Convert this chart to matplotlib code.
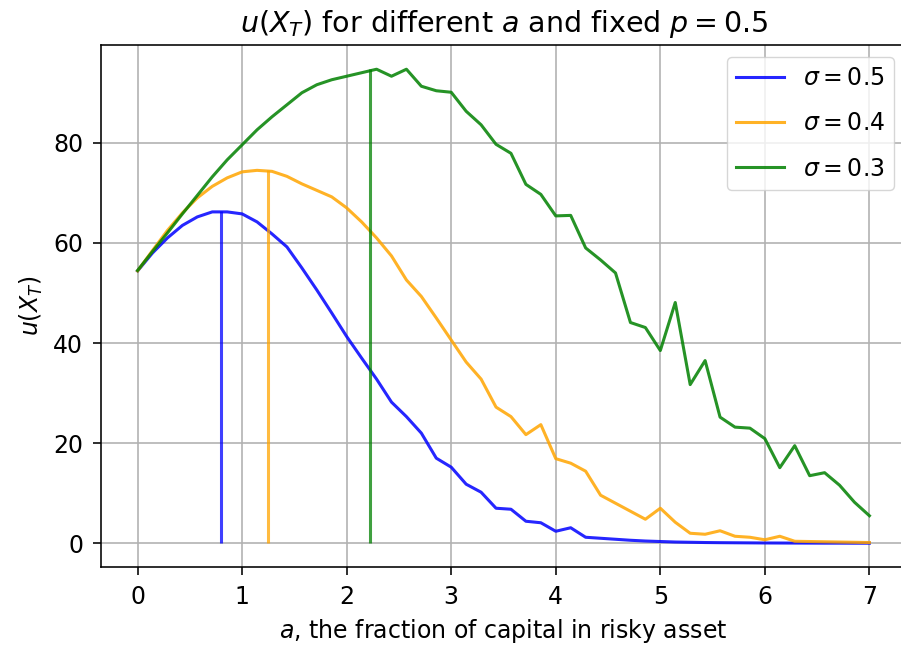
import numpy as np
import matplotlib
matplotlib.use("Agg")
import matplotlib.pyplot as plt

a = np.linspace(0, 7, 50)

u_sigma05 = [54.4, 58.0, 61.0, 63.5, 65.2, 66.2, 66.2, 65.8, 64.2, 61.8,
             59.2, 55.0, 50.6, 46.0, 41.3, 37.0, 32.8, 28.2, 25.3, 22.0,
             17.0, 15.2, 11.8, 10.2, 7.0, 6.8, 4.4, 4.1, 2.4, 3.1,
             1.2, 1.0, 0.8, 0.6, 0.45, 0.35, 0.25, 0.2, 0.15, 0.12,
             0.1, 0.08, 0.06, 0.05, 0.04, 0.03, 0.02, 0.02, 0.01, 0.01]
u_sigma04 = [54.4, 58.5, 62.5, 66.0, 69.0, 71.3, 73.0, 74.2, 74.5, 74.3,
             73.3, 71.8, 70.5, 69.2, 67.0, 64.2, 61.0, 57.4, 52.6, 49.3,
             45.0, 40.6, 36.2, 32.8, 27.2, 25.3, 21.7, 23.7, 16.9, 16.0,
             14.4, 9.6, 8.0, 6.4, 4.8, 7.0, 4.2, 2.0, 1.8, 2.5,
             1.4, 1.2, 0.7, 1.4, 0.4, 0.35, 0.3, 0.25, 0.2, 0.15]
u_sigma03 = [54.5, 58.3, 62.0, 65.8, 69.5, 73.2, 76.6, 79.6, 82.6, 85.2,
             87.6, 90.0, 91.6, 92.6, 93.3, 94.0, 94.7, 93.3, 94.7, 91.3,
             90.4, 90.1, 86.3, 83.6, 79.7, 77.9, 71.7, 69.7, 65.4, 65.5,
             59.0, 56.6, 54.0, 44.1, 43.1, 38.5, 48.1, 31.7, 36.5, 25.2,
             23.2, 23.0, 20.9, 15.1, 19.5, 13.5, 14.1, 11.6, 8.2, 5.5]

a_opt = [0.80, 1.25, 2.22]
u_opt = [66.3, 74.5, 94.8]
labels = [r"$\sigma=0.5$", r"$\sigma=0.4$", r"$\sigma=0.3$"]
colors = ["blue", "orange", "green"]

fig = plt.figure(figsize=(9.01, 6.5), dpi=100)
ax = fig.add_axes([101 / 901, (650 - 567) / 650, (906 - 101) / 901, (567 - 45) / 650])

for ys, c, lab in zip([u_sigma05, u_sigma04, u_sigma03], colors, labels):
    ax.plot(a, ys, color=c, alpha=0.85, lw=2.2, label=lab)
for xo, yo, c in zip(a_opt, u_opt, colors):
    ax.vlines(xo, 0, yo, color=c, alpha=0.75, lw=2.2)

ax.grid(True, color="#b0b0b0", lw=1.15)
ax.set_axisbelow(True)
ax.set_xticks(range(0, 8))
ax.set_yticks([0, 20, 40, 60, 80])
ax.tick_params(labelsize=17, length=5.8, width=1.15, pad=7)
for s in ax.spines.values():
    s.set_linewidth(1.15)
ax.set_title(r"$u(X_T)$ for different $a$ and fixed $p=0.5$", fontsize=20.5, pad=9)
ax.set_xlabel(r"$a$, the fraction of capital in risky asset", fontsize=17, labelpad=6)
ax.set_ylabel(r"$u(X_T)$", fontsize=17, labelpad=6)
ax.legend(loc="upper right", fontsize=17, borderaxespad=0.5, labelspacing=0.9)

fig.savefig("out.png", dpi=100)
